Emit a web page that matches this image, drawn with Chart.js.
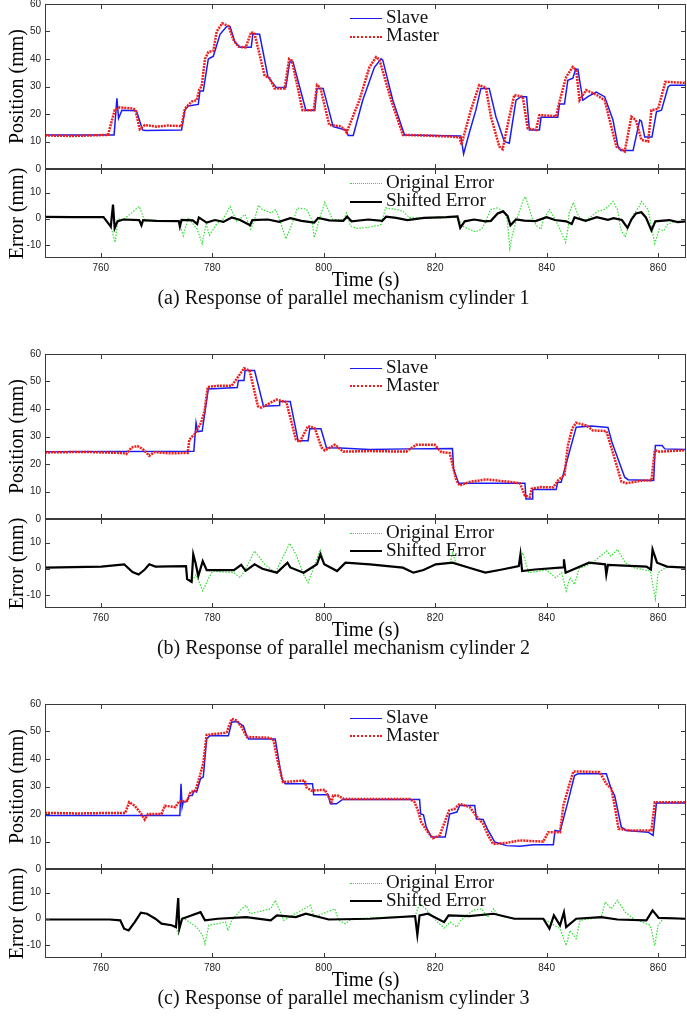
<!DOCTYPE html>
<html lang="en">
<head>
<meta charset="UTF-8">
<title>Response of parallel mechanism cylinders</title>
<script src="https://cdn.jsdelivr.net/npm/chart.js@4.4.0/dist/chart.umd.min.js"></script>
<style>
  body { margin: 0; background: #fff; width: 687px; height: 1018px; position: relative; overflow: hidden; font-family: "Liberation Serif", "Times New Roman", serif; }
  canvas { position: absolute; left: 0; }
  .leg { position: absolute; left: 350px; font-size: 19px; line-height: 18px; height: 18px; color: #111; white-space: nowrap; }
  .leg i { display: inline-block; width: 32px; height: 0; vertical-align: middle; margin-right: 4px; }
  .cap { position: absolute; left: 0; width: 687px; text-align: center; font-size: 20px; line-height: 20px; color: #111; }
</style>
</head>
<body>
<script>
// axis ticks
const timeTicks = [760, 780, 800, 820, 840, 860];
const posTicks = [0, 10, 20, 30, 40, 50, 60];
const errTicks = [-10, 0, 10];

const captions = [
  '(a) Response of parallel mechanism cylinder 1',
  '(b) Response of parallel mechanism cylinder 2',
  '(c) Response of parallel mechanism cylinder 3'
];

// cylinder 1  [time s, mm]
const slaveA = [[750,12.4],[762.4,12.4],[762.9,25.7],[763.2,18.4],[763.8,21.4],[766.4,21.2],[767.5,14.2],[768,14],[774.5,14.2],[775.1,21.4],[775.7,22.9],[777.5,23.5],[777.8,28.4],[778.4,28.4],[779.3,40],[780.2,41],[781.4,49],[782.6,51.8],[783.2,51.8],[784.1,46],[785,44.3],[787,44.3],[787.3,49.2],[788.5,49],[790,33.5],[791.5,29.6],[793.2,29.6],[793.9,38.9],[794.5,38.9],[796.8,21.4],[798.4,21.4],[798.8,29.3],[799.9,29.3],[801.7,15.4],[804,14.2],[804.4,12.2],[805.3,12.2],[807,25],[809.1,37],[810.3,40.1],[810.6,39.6],[812.4,25],[814.5,12.4],[824.6,12],[825.1,5.5],[826.1,13],[827.3,21.4],[828.2,29.3],[829.7,29.3],[830.9,19],[832.4,10],[833.3,9.4],[834.5,25],[835.4,26.3],[836.4,26.3],[836.9,14.2],[838.7,14.2],[839,18.8],[842,18.8],[842.3,23.6],[843.2,23.6],[843.8,32.3],[844.7,33],[845.2,36.3],[845.6,36.3],[846.5,25],[847.4,26.3],[848.9,28],[850.4,26.3],[851.9,17.8],[852.8,8.2],[853.3,6.7],[855.5,6.7],[856.7,17.8],[857,17.4],[857.6,11.6],[858.9,11.6],[859.7,20.8],[860.6,21.4],[861.8,29.9],[862.2,30.5],[865,30.5]];
const masterA = [[750,12.2],[755,12],[761.3,12.4],[762.5,21.4],[763.4,22.4],[765.8,22],[766.2,21.6],[767,14.5],[767.9,16],[770,15.4],[772,15.8],[774.5,15.6],[775.1,22],[776.3,24.5],[777.2,25],[777.7,29],[778.1,30],[778.7,40],[779.3,42.5],[780.2,43],[780.8,50],[781.8,53],[782.9,52],[783.8,47],[784.7,44.5],[786,44.2],[787,49.8],[787.6,49.2],[789.4,34],[790.3,33],[791.2,29.3],[793,29.3],[793.8,40],[794.3,39.4],[796.2,21.4],[798.2,21.4],[798.8,30.5],[799.4,29.6],[801,16],[802.9,15.6],[803.5,14.8],[804.1,13.3],[806.4,25],[808.2,37],[809.4,40.7],[810,39.8],[812.1,25],[814.2,12.4],[818,12.2],[822.6,11.8],[824.4,11.5],[824.7,8.8],[826.4,21.4],[827.9,30.5],[829.1,29.6],[830,19],[831.5,8.2],[832.1,7.2],[833.3,19],[834.2,26.9],[835.7,26.3],[836.6,14.8],[838.1,14.2],[838.7,19.6],[841.7,19.2],[842.3,24.5],[843.5,33.5],[844.7,37.1],[845.3,36],[845.9,25],[847.1,28.7],[848.9,27],[850.4,25],[852.5,8.2],[854,6.4],[855.2,19],[856,17.8],[857,10.6],[858.2,10],[858.8,21.4],[860,21.9],[861.3,31.7],[865,31.3]];
const origA = [[750,0.7],[755,0.6],[760.5,0.6],[761.8,-3],[762.6,-9],[763.1,0],[764,-0.5],[766.9,4.7],[767.9,-0.9],[770,-1],[774.1,-1],[774.8,-6.5],[775.7,0.4],[777.3,-4],[778.2,-9.5],[778.9,-2],[779.5,-6.3],[780.8,-2],[782,0],[783.2,4.7],[784.4,-0.9],[785.9,1.6],[786.9,-4],[787.5,-0.9],[788.3,5.1],[789,3.5],[790.6,2.2],[791.4,3.5],[792.2,-0.9],[793.2,-7.7],[794.2,-2.7],[795.3,4.1],[796.9,3.7],[797.9,-0.5],[798.3,-7.2],[799.3,0.4],[800.2,6.2],[801.6,-0.3],[803.6,-0.3],[804.1,2.2],[804.8,-2.7],[806,-3.7],[807.9,-3.3],[809.9,-2.5],[810.3,-2.1],[811.1,4.1],[812.6,3.7],[814.2,2.9],[815.4,0.4],[820,0.3],[823.6,0.5],[824,1],[824.8,-2.7],[826,-3.9],[827.2,-5],[828.3,-4],[829,-1.5],[829.9,3.5],[831.1,4.1],[832.3,2.9],[832.9,0],[833.4,-11.4],[833.8,-6.5],[834.6,-0.3],[835.8,7.2],[836.2,8.4],[837.4,0.4],[838.2,-2.7],[839,-4],[839.4,-0.3],[840.5,3.5],[841.7,-0.9],[842.5,-4.6],[843.4,-9],[843.9,-2.7],[844,2],[844.8,6.2],[845.6,1.6],[846.4,-0.9],[847.5,0],[849.2,2.9],[850.3,3.5],[851.1,4.7],[851.9,6.6],[852.7,3.5],[853.3,-4],[854.1,-7],[854.7,-2.7],[855.4,1],[856.6,4.7],[857,6.6],[858.2,3.5],[858.8,-3.1],[859.4,-9.5],[860.2,-4],[861,-4.6],[861.7,-2.1],[863,-1],[865,-1]];
const shiftA = [[750,0.7],[755,0.6],[760.5,0.6],[761.8,-3],[762.2,5.4],[762.5,-3.6],[763,-1],[764,-0.3],[766.9,-0.5],[767.3,-2.5],[767.6,-0.5],[770,-0.8],[774,-0.9],[774.2,-3],[774.5,-0.4],[776.5,-0.6],[777.3,-2],[777.6,0.5],[779,-1.5],[780.5,-0.5],[782,-1.2],[783.5,0.5],[785,-0.5],[786.8,-2.5],[787.2,-0.5],[790,-0.3],[792,-1.2],[794,0.2],[796,-0.8],[798.3,-1.5],[799,0.3],[801,-0.6],[803.5,-0.8],[804.2,0.8],[805,-1],[808,-0.3],[810.5,-0.8],[811.2,0.8],[813,0.3],[815,-0.5],[818,0.3],[822,0.6],[824,0.9],[824.5,-3.5],[825.3,-1],[827,-0.3],[829,-1],[830,-0.8],[831.2,2],[832.2,2.8],[833,1],[833.5,-2.5],[834.5,-0.3],[836,-0.7],[838,-0.9],[840,0.6],[841.5,-0.5],[843.5,-1],[844.5,-2],[845,0.5],[847,-0.8],[849,0.6],[851,-0.4],[852,0.2],[853.5,-0.5],[854.5,-3.5],[855.2,-0.3],[856,2],[857,2.5],[857.8,0.5],[858.8,-4.5],[859.5,-1],[862,-0.5],[863.5,-1.3],[865,-1]];

// cylinder 2
const slaveB = [[750,24.5],[776.7,24.6],[777.1,35],[777.4,31.8],[778.2,32],[779.3,47.3],[784.5,47.8],[784.7,50.4],[785.7,50.4],[785.9,54],[787.6,54],[789.2,41],[792,41.3],[792.1,42.7],[794,42.7],[795.4,28.5],[797.2,28.5],[797.5,32.8],[799.5,32.8],[800.5,25.9],[803,25.8],[808.2,25.3],[815,25.5],[823.1,25.6],[823.3,18.2],[824.2,13],[836.1,13],[836.3,7.3],[837.4,7.3],[837.5,10.7],[841.7,10.7],[842,13.4],[842.6,13.4],[845.3,33.4],[848,33.8],[851,33.3],[851.7,28],[854,15.2],[854.6,14.3],[859.2,14],[859.5,26.7],[860.7,26.7],[861.2,25.5],[865,25.3]];
const masterB = [[750,24.2],[757,24.4],[764,24],[764.6,23.6],[765.5,26],[766.6,26.5],[767.5,25.5],[768,24.5],[768.7,23],[769.6,24.3],[772,23.9],[775.6,24],[775.9,28.9],[776.9,31],[778,35],[778.6,39],[779.2,48],[781,48.5],[783.5,48.5],[784.4,51],[785.7,54.8],[786.7,54],[788.2,41],[788.8,40.5],[791.5,43.4],[793.3,42.5],[795,29],[795.7,28],[797.2,33.8],[798.4,33],[799.6,26],[800.2,24.9],[802,27],[803.5,24.5],[808.2,24.7],[814.8,24.5],[816.6,27],[819.9,27],[821.1,24.3],[822.6,24],[823.8,14],[824.4,12.2],[826.2,13.5],[829.2,14.4],[833.4,13.5],[835.2,13],[836.1,8.5],[837,8],[837.3,11],[839,11.6],[841.2,11.5],[842,14],[843.2,16],[843.8,26.7],[844.6,33],[845.3,35],[847.1,34],[848.3,32.2],[850.7,32],[851.3,28],[852.2,22],[853.4,13.6],[854.3,13],[857.3,14],[858.8,14],[859.4,25],[860.3,24.5],[865,25]];
const origB = [[750,0.4],[760.1,0.8],[764.2,1.7],[765.7,-1.3],[766.8,-2.2],[767.9,-0.3],[768.7,1.7],[769.8,0.8],[775.3,1],[775.5,-4],[776.4,-4.7],[777.1,-2.2],[778.3,-8.5],[779.4,-3.4],[780.1,-0.9],[783.9,-1.5],[785,-3.4],[785.8,-0.9],[787.6,6.8],[789.4,1.7],[791.3,-1.5],[793.9,9.7],[795,5.5],[796.4,-2.2],[797.2,-5.3],[798.3,1],[799.4,7.4],[800.1,1.7],[802.4,-0.9],[803.9,2.3],[808.3,1.7],[814.2,0.4],[816.1,-1.5],[817.9,-0.5],[820.1,1.7],[822.7,2],[823.1,6.1],[823.8,1.7],[826.1,0.4],[829,-1.5],[832,-0.3],[835,1],[835.7,6.1],[836.8,-1.5],[840,-0.5],[841.6,-3.4],[842.7,-1.5],[843.5,-8.5],[844.2,-3.4],[845,-6],[845.8,0],[848,2],[850.8,6.8],[851.5,4.8],[852.7,7.4],[854.1,2.3],[855.6,0.4],[858.6,-0.9],[859.5,-11.5],[860,-1.5],[861.6,0.8],[865,0.4]];
const shiftB = [[750,0.4],[760.1,0.8],[764.2,1.7],[765.7,-1.3],[766.8,-2.2],[767.9,-0.3],[768.7,1.7],[769.8,0.8],[775.3,1],[775.5,-4],[776.3,-5],[776.6,5.5],[777,2.3],[777.5,-2.8],[778.3,2.9],[779,-0.5],[783.9,-0.5],[785.2,1.5],[786,-0.8],[787.6,1.7],[789,0],[791.6,-1.5],[793.5,2.3],[794,0.5],[796.4,-1.5],[798.8,1.7],[799.4,5.5],[800.1,1.7],[802.4,-0.9],[803.9,2.3],[808.3,1.7],[814.2,0.4],[816.1,-1.5],[817.9,-0.5],[820.1,1.7],[823.1,2.3],[826.1,0.4],[829,-1.5],[832,-0.3],[835,1],[835.3,5.5],[835.6,-0.9],[837.9,-0.3],[843,0.5],[843.1,3.6],[843.4,-1.5],[847.6,2.3],[850.5,1.7],[850.7,-2.2],[851,1.5],[857.9,0.8],[858.7,-0.3],[859,7.4],[859.8,2.3],[861.6,0.8],[865,0.4]];

// cylinder 3
const slaveC = [[750,19.5],[774.2,19.5],[774.4,31],[774.6,22.5],[774.8,24.3],[775.4,24.5],[775.9,26.7],[776.4,26.7],[776.8,28.5],[777.2,28],[777.9,32.8],[778.4,33.5],[779,47.3],[779.6,48.5],[782.9,48.5],[783.5,53.4],[784.4,53.6],[785.6,52],[786.2,48.5],[786.5,47.3],[791.3,47.3],[792.5,32.8],[793.1,31],[798,31],[798.2,27],[800.8,27],[801.2,23.7],[802.3,23.7],[803.4,25.3],[817.2,25.3],[817.4,20],[817.9,19.7],[818.4,15.2],[819.3,11.6],[821.8,11.6],[822.6,20],[823.9,20.7],[824.4,23.1],[827.1,23.1],[827.4,18.2],[828.6,18],[829.5,14],[830.7,9.8],[832.8,8.5],[835.2,8.3],[837.6,8.8],[841.2,8.8],[841.5,14],[842.4,13.6],[843.8,24.3],[845,34],[845.6,34.6],[850.7,34.6],[851.6,29],[852.2,26.7],[853.4,15.2],[854.3,14],[858.2,13.4],[859.1,12.2],[859.7,24],[865,24]];
const masterC = [[750,20.4],[756,20.2],[762,20.4],[764.4,20.4],[765.1,24.3],[766.1,23],[767.3,20],[767.9,18],[768.5,20],[770.9,20],[771.5,23],[773.4,22.5],[774,24.5],[775.5,24.8],[776.1,28],[777,28.5],[777.8,34],[778.4,38.5],[779,48.8],[782.3,49.5],[782.6,49.8],[783.5,54.6],[784.4,54],[785.3,51.5],[786.2,48],[790.4,47.7],[791,46.7],[791.8,38.8],[792.7,31.6],[796.6,32.2],[796.9,29.7],[797.8,28.5],[800.2,28.8],[801.4,24.3],[801.7,26.7],[802.5,26.7],[803.6,25.5],[815.4,25.5],[816.3,24.3],[816.9,21.3],[817.5,17],[818.7,13.4],[819.6,11.2],[820.8,12.2],[821.7,17],[822.5,21.3],[823.5,21.9],[824.4,23.7],[826.2,22.5],[827.1,20],[828.6,16.4],[829.5,12.2],[830.4,9.1],[832.8,9.5],[835.2,10.4],[837,10.2],[839.4,10],[840.3,13.4],[842.4,13.4],[843,23.1],[844.2,31.6],[844.8,35.5],[847,35.4],[849.5,35.2],[850.7,31],[851.6,29.2],[852.3,21.9],[852.9,14.6],[855,14],[858.8,14],[859.4,24.3],[865,24.3]];
const origC = [[750,-0.3],[761.6,-0.3],[763.5,-0.6],[764.2,-3.8],[765,-4.5],[766.1,-1.3],[767.2,2.3],[768.3,1.9],[769.8,0],[770.9,-1.9],[772.7,-2.5],[773.5,-3.2],[773.9,-5.7],[774.6,0.6],[777.2,-3.2],[778.3,-6.4],[778.7,-9.6],[779.4,-2.5],[782.4,-1.3],[782.8,-4.5],[783.5,-0.6],[785.3,3.8],[786.1,5.1],[786.8,1.9],[790.5,3.8],[791.3,7],[792,3.8],[792.8,-0.6],[797.6,5.1],[798.3,0.6],[802,3.8],[802.7,-0.6],[803.9,-1.9],[805,0],[816.4,1],[817.2,5.7],[818.3,3.8],[820.1,-0.6],[821.6,-3.6],[822.7,-1.3],[823.9,-3.2],[824.6,-0.6],[826.8,3.2],[828.3,3.8],[829.4,0.6],[830.5,3.8],[831.2,1.3],[834.2,0],[839.4,0],[840.9,-1.9],[842.4,-3.8],[843.5,-10.2],[844.2,-4.5],[845.3,-7.6],[846,-0.6],[849.8,0.6],[850.5,6.4],[851.6,3.8],[852.7,7],[854.1,2.5],[855.6,0],[858.6,-2.5],[859.4,-10.2],[860,-2.5],[861,0.3],[865,0]];
const shiftC = [[750,-0.3],[761.6,-0.3],[763.5,-0.6],[764.2,-3.8],[765,-4.5],[766.1,-1.3],[767.2,2.3],[768.3,1.9],[769.8,0],[770.9,-1.9],[772.7,-2.5],[773.5,-3.2],[773.9,7.9],[774.1,-3.8],[774.6,0],[777.9,2.5],[778.7,-0.6],[781,0],[786.1,0.6],[790.5,-0.6],[791.6,1.3],[795,0.6],[796.8,1.9],[800.9,-0.3],[808.3,0],[816.4,1],[816.8,-6.1],[817.2,1.3],[818.7,1.9],[821.6,-1.3],[822.4,1.3],[826.1,1],[830.5,1.9],[834.2,0],[839.4,0],[840.5,-3.8],[841.3,1.3],[842.4,-2.5],[843.1,2.5],[843.5,-3.2],[845.3,0],[849.8,0.6],[852.7,-0.3],[857.9,-0.6],[859,3.2],[860.1,0.3],[865,0]];

const panels = [
  { slave: slaveA, master: masterA, orig: origA, shift: shiftA },
  { slave: slaveB, master: masterB, orig: origB, shift: shiftB },
  { slave: slaveC, master: masterC, orig: origC, shift: shiftC }
];

const tickFont = { family: '"Liberation Sans", Arial, sans-serif', size: 10 };
const titleFont = { family: '"Liberation Serif", "Times New Roman", serif', size: 20 };

// box round the plot with matlab style inward ticks
const frame = {
  id: 'frame',
  afterDatasetsDraw(chart) {
    const { ctx, chartArea: a, scales } = chart;
    ctx.save();
    ctx.strokeStyle = '#3a3a3a';
    ctx.lineWidth = 1;
    ctx.strokeRect(a.left + 0.5, a.top + 0.5, a.right - a.left - 1, a.bottom - a.top - 1);
    ctx.beginPath();
    timeTicks.forEach(v => {
      const x = Math.round(scales.x.getPixelForValue(v)) + 0.5;
      ctx.moveTo(x, a.top); ctx.lineTo(x, a.top + 5);
      ctx.moveTo(x, a.bottom); ctx.lineTo(x, a.bottom - 5);
    });
    scales.y.ticks.forEach(t => {
      const y = Math.round(scales.y.getPixelForValue(t.value)) + 0.5;
      ctx.moveTo(a.left, y); ctx.lineTo(a.left + 5, y);
      ctx.moveTo(a.right, y); ctx.lineTo(a.right - 5, y);
    });
    ctx.stroke();
    ctx.restore();
  }
};

function line(data, color, width, dash) {
  return { data: data, borderColor: color, borderWidth: width, borderDash: dash, pointRadius: 0, fill: false, tension: 0 };
}

function addCanvas(top, height) {
  const c = document.createElement('canvas');
  c.width = 687; c.height = height;
  c.style.top = top + 'px';
  c.style.width = '687px'; c.style.height = height + 'px';
  document.body.appendChild(c);
  return c;
}

function makeChart(canvas, sets, yMin, yMax, yTicks, yTitle, withX, padTop, padBottom) {
  return new Chart(canvas, {
    type: 'line',
    data: { datasets: sets },
    options: {
      responsive: false,
      animation: false,
      layout: { padding: { top: padTop, bottom: padBottom, left: 0, right: 1 } },
      plugins: { legend: { display: false }, tooltip: { enabled: false } },
      scales: {
        x: {
          type: 'linear', min: 750, max: 865,
          afterBuildTicks: s => { s.ticks = timeTicks.map(v => ({ value: v })); },
          grid: { display: false, drawTicks: false },
          border: { display: false },
          ticks: { display: withX, padding: 4, font: tickFont, color: '#222' },
          title: { display: withX, text: 'Time (s)', font: titleFont, color: '#000', padding: { top: 0, bottom: 0 } },
          afterFit: s => { s.height = withX ? 35 : 0; }
        },
        y: {
          type: 'linear', min: yMin, max: yMax,
          afterBuildTicks: s => { s.ticks = yTicks.map(v => ({ value: v })); },
          grid: { display: false, drawTicks: false },
          border: { display: false },
          ticks: { padding: 4, font: tickFont, color: '#222' },
          title: { display: true, text: yTitle, font: titleFont, color: '#000', padding: { top: 6, bottom: 0 } },
          afterFit: s => { s.width = 45; }
        }
      }
    },
    plugins: [frame]
  });
}

function legendRow(top, sample, text) {
  const d = document.createElement('div');
  d.className = 'leg';
  d.style.top = top + 'px';
  d.innerHTML = '<i style="border-top:' + sample + '"></i>' + text;
  document.body.appendChild(d);
}

const offsets = [0, 349.5, 699.5];

panels.forEach((p, i) => {
  const o = offsets[i];
  // position plot: area from o+4 to o+169
  makeChart(addCanvas(o - 6, 185), [
    line(p.master, '#f01c1c', 2.5, [2, 1]),
    line(p.slave, '#1c1cf0', 1.5, [])
  ], 0, 60, posTicks, 'Position (mm)', false, 10, 10);
  // error plot: area from o+169 to o+258
  makeChart(addCanvas(o + 159, 136), [
    line(p.shift, '#000000', 2.2, []),
    line(p.orig, '#2ee02e', 1.2, [1.5, 1.5])
  ], -15, 19, errTicks, 'Error (mm)', true, 10, 2);

  legendRow(o + 8, '1.5px solid #1c1cf0', 'Slave');
  legendRow(o + 26, '2px dotted #f01c1c', 'Master');
  legendRow(o + 173, '1.5px dotted #2ee02e', 'Original Error');
  legendRow(o + 191, '2px solid #000', 'Shifted Error');

  const cap = document.createElement('div');
  cap.className = 'cap';
  cap.style.top = (o + 287) + 'px';
  cap.textContent = captions[i];
  document.body.appendChild(cap);
});
</script>
</body>
</html>
